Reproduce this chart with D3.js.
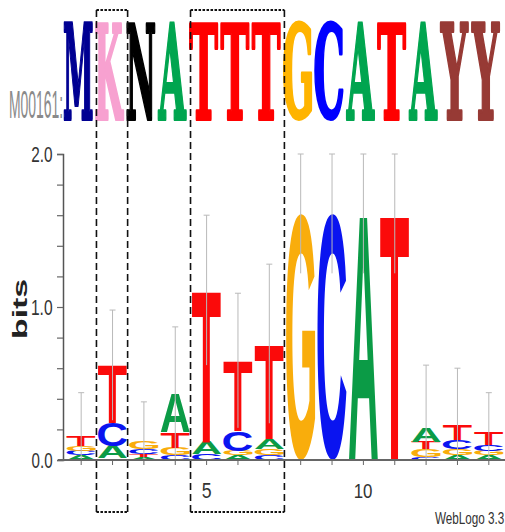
<!DOCTYPE html>
<html>
<head>
<meta charset="utf-8">
<script src="https://cdn.jsdelivr.net/npm/d3@7"></script>
<style>
  body { margin: 0; background: #fff; }
  svg { display: block; }
</style>
</head>
<body>
<div id="logo"></div>
<script>
// sequence positions and the information content (bits) of each base
const positions = [1, 2, 3, 4, 5, 6, 7, 8, 9, 10, 11, 12, 13, 14];
const bitsA = [0.03, 0.08, 0.02, 0.25, 0.08, 0.03, 0.07, 0, 0, 1.61, 0, 0.09, 0.03, 0.03];
const bitsC = [0.03, 0.15, 0.03, 0.03, 0.04, 0.13, 0.03, 0, 1.61, 0, 0, 0.02, 0.06, 0.04];
const bitsG = [0.03, 0.01, 0.05, 0.05, 0, 0.03, 0.04, 1.61, 0, 0, 0, 0.05, 0.04, 0.03];
const bitsT = [0.07, 0.38, 0.02, 0.10, 0.99, 0.46, 0.62, 0, 0, 0, 1.61, 0.05, 0.10, 0.08];
const errBits = [0.28, 0.36, 0.26, 0.44, 0.49, 0.44, 0.52, 0.39, 0.39, 0.39, 0.39, 0.41, 0.37, 0.26];
const consensus = ["M", "K", "N", "A", "T", "T", "T", "G", "C", "A", "T", "A", "Y", "Y"];
const yTicks = [0, 1, 2];
const xLabels = [5, 10];

const W = 505, H = 532;
const colors = {A: "#0b9b46", C: "#0a14f0", G: "#f9ad0c", T: "#fb0a0a"};
const topColors = {M: "#000092", K: "#f7a1d0", N: "#000000", A: "#00a54f", T: "#ff0000",
                   G: "#ffb400", C: "#0000ff", Y: "#973a35"};

let svg = d3.select("#logo").append("svg")
    .attr("width", W)
    .attr("height", H);

let x = d3.scaleBand()
    .domain(positions)
    .range([65.5, 504.5])
    .paddingInner(0.07)
    .paddingOuter(0.035);

let y = d3.scaleLinear()
    .domain([0, 2])
    .range([460, 154]);

// measure the ink box of a string so it can be stretched into a rectangle
const ctx = document.createElement("canvas").getContext("2d");
function inkBox(str, font) {
    ctx.font = font;
    let m = ctx.measureText(str);
    return {l: m.actualBoundingBoxLeft, r: m.actualBoundingBoxRight,
            a: m.actualBoundingBoxAscent, d: m.actualBoundingBoxDescent};
}

function fitText(g, str, family, weight, bx, by, bw, bh, color, stroke) {
    let font = weight + " 100px " + family;
    let b = inkBox(str, font);
    let s = stroke || 0;
    let sx = (bw - s) / (b.l + b.r);
    let sy = (bh - s) / (b.a + b.d);
    let t = g.append("text")
        .attr("transform", "translate(" + (bx + s / 2 + b.l * sx) + "," + (by + s / 2 + b.a * sy) + ") scale(" + sx + "," + sy + ")")
        .attr("font-family", family)
        .attr("font-weight", weight)
        .attr("font-size", 100)
        .attr("fill", color)
        .text(str);
    if (s) {
        t.attr("stroke", color).attr("stroke-width", s)
         .attr("stroke-linejoin", "round").attr("vector-effect", "non-scaling-stroke");
    }
    return t;
}

const logoFont = "'Liberation Sans', Arial, sans-serif";
const seqFont = "'DejaVu Serif', serif";
const labelFont = "'Liberation Sans', Arial, sans-serif";

// consensus sequence across the top
let seqRow = svg.append("g");
consensus.forEach((ch, i) => {
    fitText(seqRow, ch, seqFont, "bold", x(positions[i]) - 4, 22, x.bandwidth() + 2, 98, topColors[ch], 3);
});

fitText(svg, "M00161:", labelFont, "normal", 10, 90, 52, 28, "#8a8a8a");

// stacks: smallest letter at the bottom
let stacks = svg.append("g");
positions.forEach((p, i) => {
    let rows = [["A", bitsA[i]], ["C", bitsC[i]], ["G", bitsG[i]], ["T", bitsT[i]]]
        .filter(r => r[1] > 0)
        .sort((a, b) => a[1] - b[1]);
    let base = 0;
    rows.forEach(r => {
        let y0 = y(base + r[1]);
        let h = y(base) - y0;
        fitText(stacks, r[0], logoFont, "bold", x(p), y0, x.bandwidth(), h, colors[r[0]]);
        base += r[1];
    });
});

// error bars on top of the letters
let errs = svg.append("g").attr("stroke", "#b9b9b9").attr("stroke-width", 1);
positions.forEach((p, i) => {
    let total = bitsA[i] + bitsC[i] + bitsG[i] + bitsT[i];
    let cx = x(p) + x.bandwidth() / 2;
    errs.append("line")
        .attr("x1", cx).attr("x2", cx)
        .attr("y1", y(Math.max(0, total - errBits[i])))
        .attr("y2", y(total + errBits[i]));
    errs.append("line")
        .attr("x1", cx - 3).attr("x2", cx + 3)
        .attr("y1", y(total + errBits[i])).attr("y2", y(total + errBits[i]));
});

// y axis
let yAxis = svg.append("g")
    .attr("transform", "translate(63,0)")
    .call(d3.axisLeft(y).tickValues(d3.range(0, 2.01, 0.2)).tickSize(6).tickFormat(""));
yAxis.select(".domain").attr("stroke", "#555").attr("stroke-width", 1.5);
yAxis.selectAll(".tick line").attr("stroke", "#666").attr("stroke-width", 1.2);

yTicks.forEach(t => {
    fitText(svg, t.toFixed(1), labelFont, "normal", 32, y(t) - 8, 20, 16, "#333");
});

let bitsG2 = svg.append("g").attr("transform", "translate(27,337) rotate(-90)");
fitText(bitsG2, "bits", labelFont, "bold", 0, -15, 57, 15, "#222");

// x axis
let xAxis = svg.append("g")
    .attr("transform", "translate(0,460)")
    .call(d3.axisBottom(x).tickSize(5).tickFormat(""));
xAxis.select(".domain").attr("d", "M58,0H505").attr("stroke", "#666").attr("stroke-width", 2);
xAxis.selectAll(".tick line").attr("stroke", "#666");

xLabels.forEach(v => {
    let cx = x(v) + x.bandwidth() / 2;
    let w = String(v).length * 8.5;
    fitText(svg, String(v), labelFont, "normal", cx - w / 2, 483, w, 15, "#333");
});

fitText(svg, "WebLogo 3.3", labelFont, "normal", 435, 512, 69, 16, "#333");

// dashed boxes around positions 2 and 5-7
const boxes = [[2, 2], [5, 7]];
boxes.forEach(bx => {
    let x0 = x(bx[0]) - 1.5;
    let x1 = x(bx[1]) + x.bandwidth() + 0.5;
    let g = svg.append("g").attr("fill", "none").attr("stroke", "#111").attr("stroke-width", 1.6);
    g.append("path").attr("d", "M" + x0 + ",10V512M" + x1 + ",10V512").attr("stroke-dasharray", "7,4");
    g.append("path").attr("d", "M" + x0 + ",10H" + x1 + "M" + x0 + ",512H" + x1).attr("stroke-dasharray", "2.5,1.5").attr("stroke-width", 2.2);
});
</script>
</body>
</html>
